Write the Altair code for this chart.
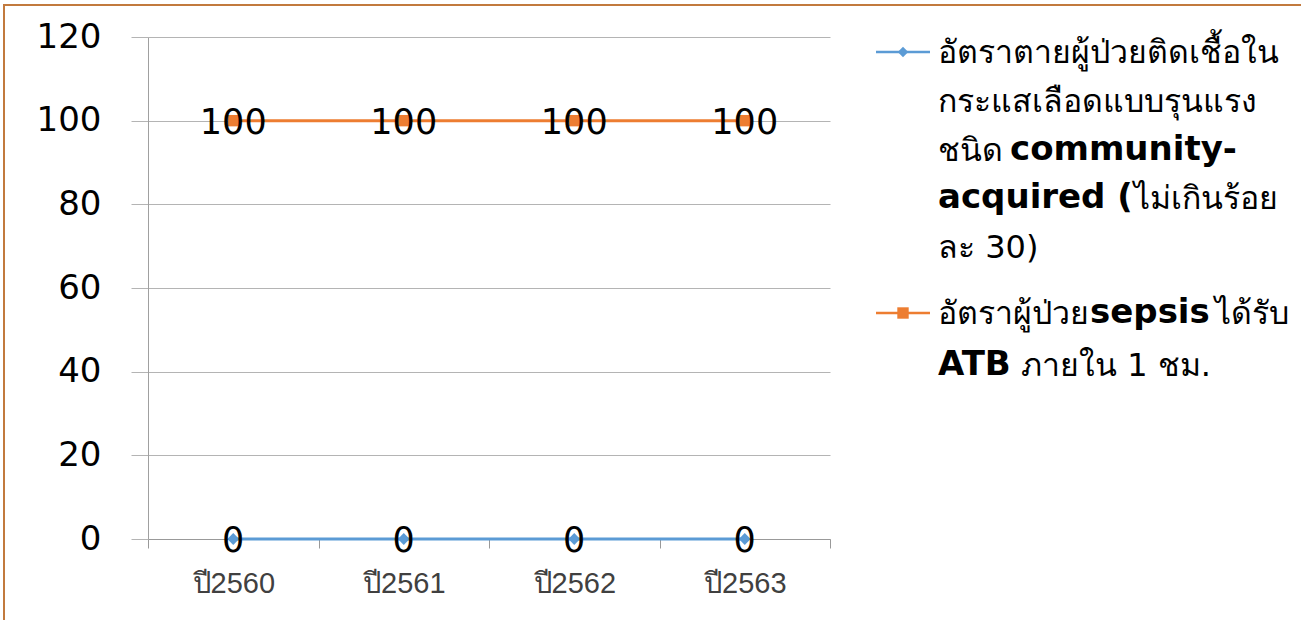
import altair as alt
import pandas as pd

# Years on the category axis
years = ["ปี2560", "ปี2561", "ปี2562", "ปี2563"]

# Series names
series_death = "อัตราตายผู้ป่วยติดเชื้อในกระแสเลือดแบบรุนแรงชนิด community-acquired (ไม่เกินร้อยละ 30)"
series_atb = "อัตราผู้ป่วยsepsisได้รับATB ภายใน 1 ชม."

# Series values (percent)
death_rate = [0, 0, 0, 0]
atb_rate = [100, 100, 100, 100]

# Legend wording, split into wrapped lines; each line is a list of
# (text, is_latin) runs so Latin words can use the heavier face
legend_death_lines = [
    [("อัตราตายผู้ป่วยติดเชื้อใน", False)],
    [("กระแสเลือดแบบรุนแรง", False)],
    [("ชนิด", False), ("community-", True)],
    [("acquired (", True), ("ไม่เกินร้อย", False)],
    [("ละ 30)", False)],
]
legend_atb_lines = [
    [("อัตราผู้ป่วย", False), ("sepsis", True), ("ได้รับ", False)],
    [("ATB", True), ("ภายใน 1 ชม.", False)],
]

y_ticks = [0, 20, 40, 60, 80, 100, 120]

BLUE = "#5B9BD5"
ORANGE = "#ED7D31"
GRID = "#B4B4B4"
FRAME = "#C27A3E"

df = pd.concat([
    pd.DataFrame({"year": years, "value": death_rate, "series": series_death}),
    pd.DataFrame({"year": years, "value": atb_rate, "series": series_atb}),
])

W, H = 682, 502

x_enc = alt.X(
    "year:N", sort=years,
    scale=alt.Scale(paddingInner=0, paddingOuter=0),
    axis=alt.Axis(title=None, labelAngle=0, tickBand="extent", tickSize=9,
                  tickColor="#999999", domainColor="#999999", labelFontSize=29,
                  labelFont="Liberation Sans", labelColor="#404040", labelPadding=21,
                  grid=False),
)
y_enc = alt.Y(
    "value:Q",
    scale=alt.Scale(domain=[0, 120], nice=False),
    axis=alt.Axis(title=None, values=y_ticks, grid=True, gridColor=GRID, gridWidth=1,
                  tickSize=17, tickColor=GRID, domainColor="#A0A0A0", labelFontSize=34,
                  labelFont="DejaVu Sans", labelColor="#000000", labelPadding=30),
)
color_enc = alt.Color("series:N", scale=alt.Scale(domain=[series_death, series_atb],
                                                  range=[BLUE, ORANGE]), legend=None)

base = alt.Chart(df)

lines = base.mark_line(strokeWidth=3).encode(x=x_enc, y=y_enc, color=color_enc, detail="series:N")

points = base.mark_point(filled=True, opacity=1).encode(
    x=x_enc, y=y_enc, color=color_enc,
    shape=alt.Shape("series:N", scale=alt.Scale(domain=[series_death, series_atb],
                                                range=["diamond", "square"]), legend=None),
    size=alt.Size("series:N", scale=alt.Scale(domain=[series_death, series_atb],
                                              range=[140, 130]), legend=None),
)

labels = base.mark_text(fontSize=35, font="DejaVu Sans", color="#000000",
                        baseline="middle", dy=2).encode(
    x=x_enc, y=y_enc, text=alt.Text("value:Q", format="d"))

# Outer frame of the chart area
one = pd.DataFrame({"k": [0]})
frame = alt.Chart(one).mark_rect(
    fill=None, stroke=FRAME, strokeWidth=2).encode(
    x=alt.value(-144), x2=alt.value(1400), y=alt.value(-32), y2=alt.value(800))

# Legend symbols: a short line with the series marker on it
SYM_X0, SYM_X1 = 728, 782
ENTRY_Y = [15, 276]
LINE_STEP = [48.75, 52]
TEXT_X = 790


def legend_symbol(color, shape, size, y):
    rule = alt.Chart(one).mark_rule(color=color, strokeWidth=2.5).encode(
        x=alt.value(SYM_X0), x2=alt.value(SYM_X1), y=alt.value(y))
    pt = alt.Chart(one).mark_point(shape=shape, filled=True, color=color,
                                   opacity=1, size=size).encode(
        x=alt.value((SYM_X0 + SYM_X1) / 2), y=alt.value(y))
    return [rule, pt]


# Horizontal start of each run on a wrapped line
RUN_X = {
    (0, 2): [TEXT_X, 862],
    (0, 3): [TEXT_X, 986],
    (1, 0): [TEXT_X, 942, 1067],
    (1, 1): [TEXT_X, 873],
}


def legend_text(entry, lines_):
    layers = []
    for i, runs in enumerate(lines_):
        xs = RUN_X.get((entry, i), [TEXT_X])
        y = ENTRY_Y[entry] + i * LINE_STEP[entry]
        for (txt, latin), x in zip(runs, xs):
            if latin:
                mk = alt.Chart(one).mark_text(text=txt, align="left", baseline="middle",
                                              fontSize=34, font="DejaVu Sans",
                                              fontWeight="bold", color="#000000")
            else:
                mk = alt.Chart(one).mark_text(text=txt, align="left", baseline="middle",
                                              fontSize=32, font="DejaVu Sans",
                                              color="#000000", dy=1)
            layers.append(mk.encode(x=alt.value(x), y=alt.value(y)))
    return layers


legend_layers = (legend_symbol(BLUE, "diamond", 110, ENTRY_Y[0])
                 + legend_symbol(ORANGE, "square", 130, ENTRY_Y[1])
                 + legend_text(0, legend_death_lines)
                 + legend_text(1, legend_atb_lines))

chart = alt.layer(
    frame, lines, points, labels, *legend_layers
).properties(
    width=W, height=H,
    autosize=alt.AutoSizeParams(type="none"),
    padding={"left": 148, "top": 37, "right": 1301 - 148 - W, "bottom": 620 - 37 - H},
    background="white",
).configure_view(strokeWidth=0)

chart.save("out.html", embed_options={"renderer": "svg", "actions": False})
